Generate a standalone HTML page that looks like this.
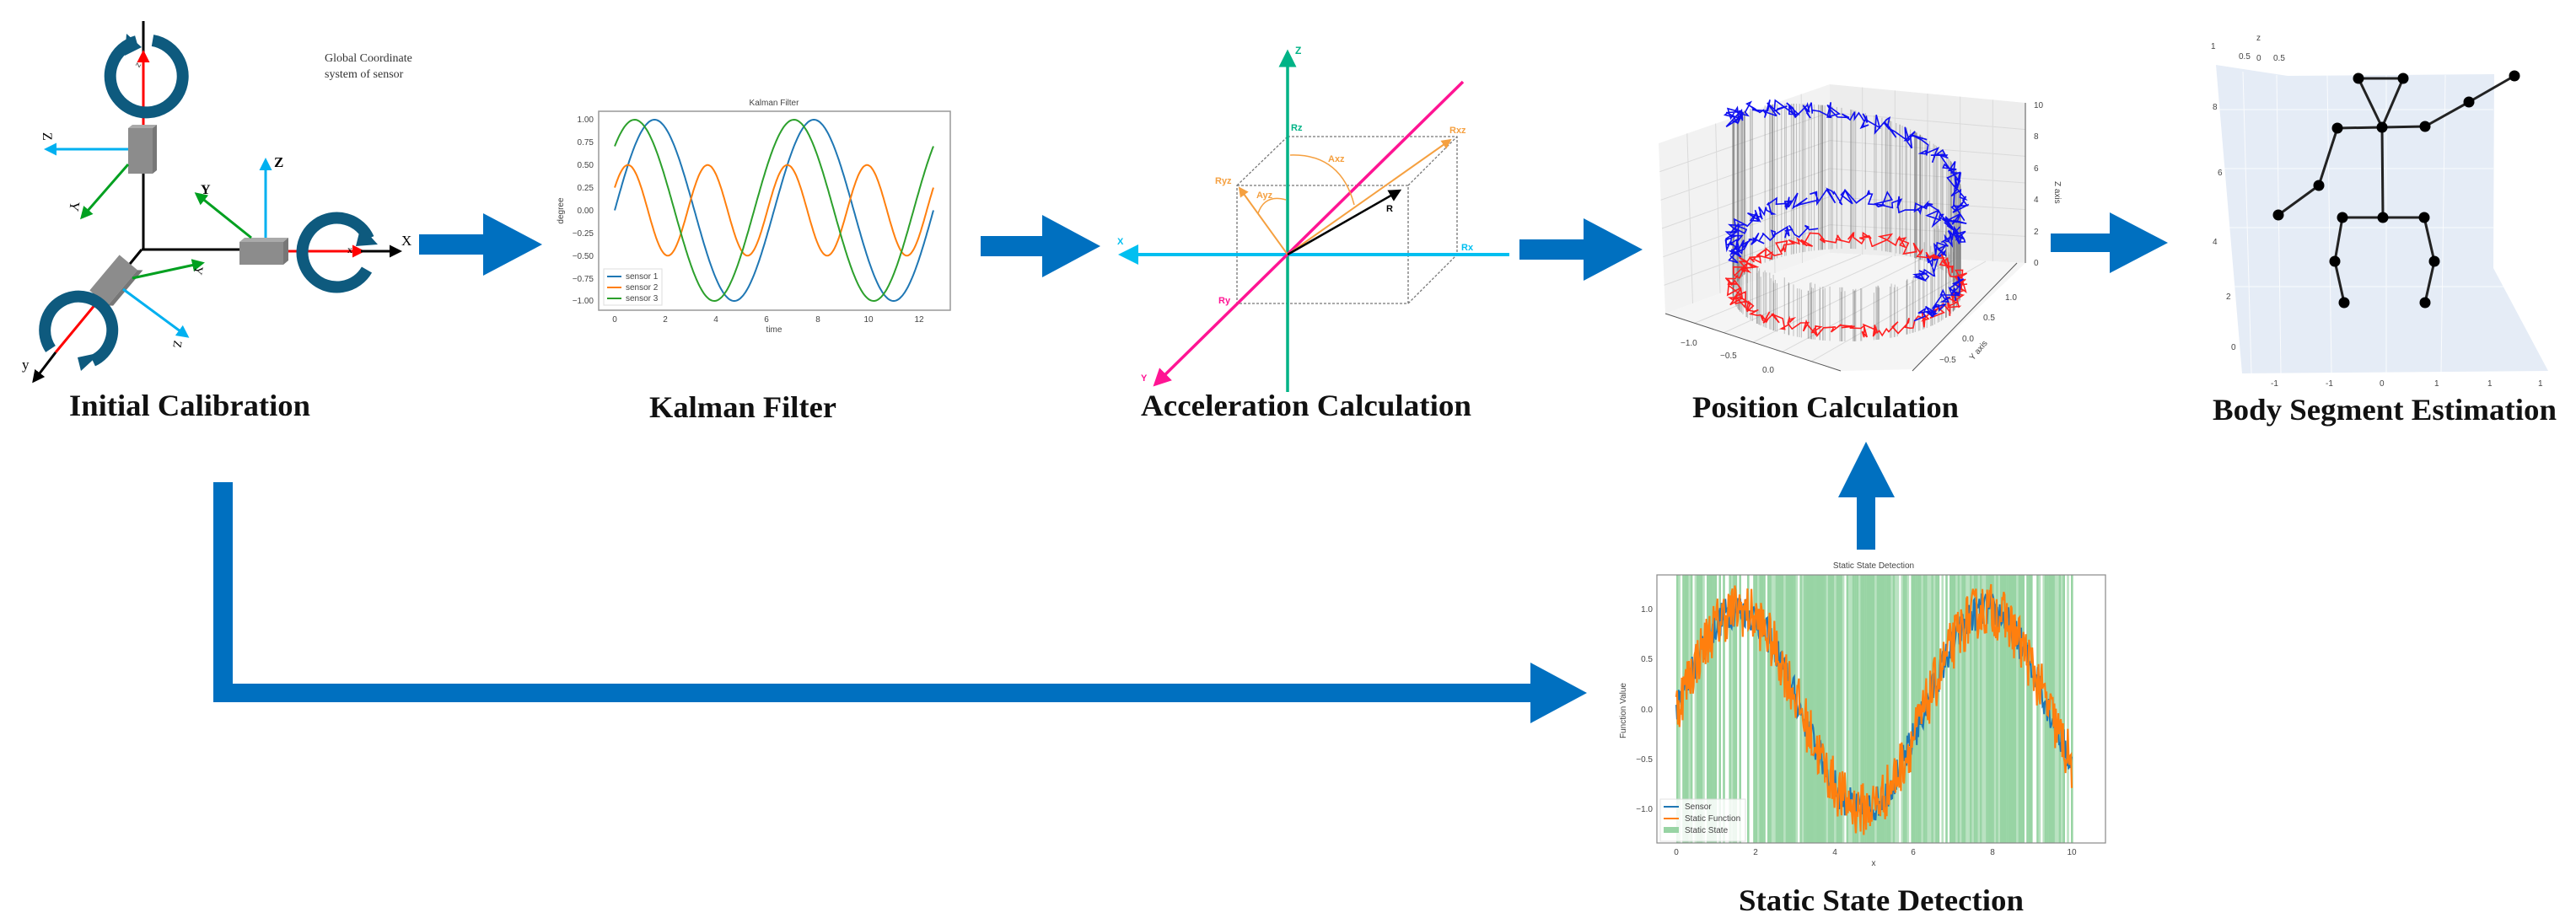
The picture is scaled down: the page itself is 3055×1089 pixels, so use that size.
<!DOCTYPE html>
<html><head><meta charset="utf-8"><style>
html,body{margin:0;padding:0;background:#fff;}
svg{display:block;}
.lbl{font-family:"Liberation Serif",serif;font-weight:bold;font-size:36px;fill:#111;}
.sm{font-family:"Liberation Sans",sans-serif;font-size:10px;fill:#444;}
</style></head><body>
<svg id="s" width="3055" height="1089" viewBox="0 0 3055 1089" xmlns="http://www.w3.org/2000/svg">
<defs>
<marker id="mk" markerWidth="6" markerHeight="6" refX="5" refY="3" orient="auto" markerUnits="strokeWidth"><path d="M0,0 L6,3 L0,6 z" fill="context-stroke"/></marker>
<marker id="mkb" markerWidth="5" markerHeight="5" refX="4" refY="2.5" orient="auto" markerUnits="strokeWidth"><path d="M0,0 L5,2.5 L0,5 z" fill="#000"/></marker>
<marker id="mkc" markerWidth="5" markerHeight="5" refX="4" refY="2.5" orient="auto" markerUnits="strokeWidth"><path d="M0,0 L5,2.5 L0,5 z" fill="#00B0F0"/></marker>
<marker id="mkg" markerWidth="5" markerHeight="5" refX="4" refY="2.5" orient="auto" markerUnits="strokeWidth"><path d="M0,0 L5,2.5 L0,5 z" fill="#00A020"/></marker>
<marker id="mkr" markerWidth="5" markerHeight="5" refX="4" refY="2.5" orient="auto" markerUnits="strokeWidth"><path d="M0,0 L5,2.5 L0,5 z" fill="#F00"/></marker>
<marker id="mko" markerWidth="6" markerHeight="6" refX="5" refY="3" orient="auto" markerUnits="strokeWidth"><path d="M0,0 L6,3 L0,6 z" fill="#F5A040"/></marker>
</defs>

<!-- ===== Initial Calibration ===== -->
<g>
<line x1="170" y1="25" x2="170" y2="296" stroke="#000" stroke-width="3"/>
<line x1="168" y1="296" x2="286" y2="296" stroke="#000" stroke-width="3"/>
<line x1="170" y1="150" x2="170" y2="62" stroke="#F00" stroke-width="3" marker-end="url(#mkr)"/>
<text x="160" y="80" class="sm" font-size="11" fill="#000" transform="rotate(-60 163 76)">z</text>
<path d="M 162 49 A 43 43 0 1 0 181 48" fill="none" stroke="#0E5A7E" stroke-width="14"/>
<polygon points="150,40 168,56 148,66" fill="#0E5A7E"/>
<rect x="152" y="152" width="29" height="54" fill="#8C8C8C"/>
<polygon points="152,152 157,148 186,148 181,152" fill="#aaa"/>
<polygon points="181,152 186,148 186,202 181,206" fill="#777"/>
<line x1="152" y1="177" x2="55" y2="177" stroke="#00B0F0" stroke-width="3" marker-end="url(#mkc)"/>
<text x="50" y="166" font-family="Liberation Serif" font-size="16" transform="rotate(90 55 162)">Z</text>
<line x1="152" y1="195" x2="97" y2="258" stroke="#00A020" stroke-width="3" marker-end="url(#mkg)"/>
<text x="82" y="250" font-family="Liberation Serif" font-size="16" transform="rotate(100 88 245)">Y</text>
<rect x="284" y="287" width="52" height="27" fill="#8C8C8C"/>
<polygon points="284,287 290,282 342,282 336,287" fill="#aaa"/>
<polygon points="336,287 342,282 342,309 336,314" fill="#777"/>
<line x1="315" y1="282" x2="315" y2="190" stroke="#00B0F0" stroke-width="3" marker-end="url(#mkc)"/>
<text x="325" y="198" font-family="Liberation Serif" font-size="17" font-weight="bold">Z</text>
<line x1="298" y1="282" x2="233" y2="230" stroke="#00A020" stroke-width="3" marker-end="url(#mkg)"/>
<text x="238" y="230" font-family="Liberation Serif" font-size="16" font-weight="bold">Y</text>
<line x1="342" y1="298" x2="430" y2="298" stroke="#F00" stroke-width="3" marker-end="url(#mkr)"/>
<line x1="428" y1="298" x2="474" y2="298" stroke="#000" stroke-width="3" marker-end="url(#mkb)"/>
<text x="476" y="291" font-family="Liberation Serif" font-size="17">X</text>
<text x="412" y="300" font-family="Liberation Serif" font-size="12">x</text>
<path d="M 437 283 A 41 41 0 1 0 435 320" fill="none" stroke="#0E5A7E" stroke-width="14"/>
<polygon points="428,268 448,290 422,292" fill="#0E5A7E"/>
<line x1="168" y1="296" x2="150" y2="318" stroke="#000" stroke-width="3"/>
<g transform="rotate(40 135 332)">
<rect x="121" y="305" width="28" height="55" fill="#8C8C8C"/>
<polygon points="149,305 154,301 154,356 149,360" fill="#777"/>
</g>
<line x1="157" y1="330" x2="240" y2="312" stroke="#00A020" stroke-width="3" marker-end="url(#mkg)"/>
<text x="232" y="325" font-family="Liberation Serif" font-size="14" transform="rotate(100 236 320)">Y</text>
<line x1="146" y1="343" x2="222" y2="399" stroke="#00B0F0" stroke-width="3" marker-end="url(#mkc)"/>
<text x="206" y="412" font-family="Liberation Serif" font-size="14" transform="rotate(100 210 408)">Z</text>
<line x1="118" y1="355" x2="66" y2="418" stroke="#F00" stroke-width="3"/>
<line x1="66" y1="418" x2="40" y2="452" stroke="#000" stroke-width="3" marker-end="url(#mkb)"/>
<text x="26" y="438" font-family="Liberation Serif" font-size="17">y</text>
<path d="M 60 414 A 40 40 0 1 1 110 428" fill="none" stroke="#0E5A7E" stroke-width="14"/>
<polygon points="120,418 96,440 92,424" fill="#0E5A7E"/>
<text x="385" y="73" font-family="Liberation Serif" font-size="14" fill="#333">Global Coordinate</text>
<text x="385" y="92" font-family="Liberation Serif" font-size="14" fill="#333">system of sensor</text>
<text x="82" y="493" class="lbl" textLength="286" lengthAdjust="spacingAndGlyphs">Initial Calibration</text>
</g>

<!-- ===== Arrows ===== -->
<g fill="#0070C0">
<polygon points="497,278 573,278 573,253 643,290 573,327 573,302 497,302"/>
<polygon points="1163,280 1236,280 1236,255 1305,292 1236,329 1236,304 1163,304"/>
<polygon points="1802,284 1878,284 1878,259 1948,296 1878,333 1878,308 1802,308"/>
<polygon points="2432,277 2502,277 2502,252 2571,288 2502,324 2502,299 2432,299"/>
<polygon points="2202,652 2202,590 2180,590 2213,524 2247,590 2224,590 2224,652"/>
<polygon points="253,572 276,572 276,811 1815,811 1815,786 1882,822 1815,858 1815,833 253,833"/>
</g>

<!-- ===== Kalman Filter ===== -->
<g>
<text x="918" y="125" class="sm" text-anchor="middle">Kalman Filter</text>
<rect x="710" y="132" width="417" height="236" fill="#fff" stroke="#999" stroke-width="1.5"/>
<g id="kal"></g>
<g class="sm" text-anchor="end" font-size="9">
<text x="704" y="145">1.00</text><text x="704" y="172">0.75</text><text x="704" y="199">0.50</text><text x="704" y="226">0.25</text><text x="704" y="253">0.00</text><text x="704" y="280">−0.25</text><text x="704" y="307">−0.50</text><text x="704" y="334">−0.75</text><text x="704" y="360">−1.00</text>
</g>
<g class="sm" text-anchor="middle" font-size="9">
<text x="729" y="382">0</text><text x="789" y="382">2</text><text x="849" y="382">4</text><text x="909" y="382">6</text><text x="970" y="382">8</text><text x="1030" y="382">10</text><text x="1090" y="382">12</text>
<text x="918" y="394">time</text>
<text x="668" y="250" transform="rotate(-90 668 250)">degree</text>
</g>
<rect x="716" y="319" width="69" height="43" fill="#fff" stroke="#ddd"/>
<line x1="720" y1="328" x2="737" y2="328" stroke="#1f77b4" stroke-width="2"/>
<line x1="720" y1="341" x2="737" y2="341" stroke="#ff7f0e" stroke-width="2"/>
<line x1="720" y1="354" x2="737" y2="354" stroke="#2ca02c" stroke-width="2"/>
<text x="742" y="331" class="sm" font-size="9">sensor 1</text>
<text x="742" y="344" class="sm" font-size="9">sensor 2</text>
<text x="742" y="357" class="sm" font-size="9">sensor 3</text>
<text x="770" y="495" class="lbl" textLength="222" lengthAdjust="spacingAndGlyphs">Kalman Filter</text>
</g>

<!-- ===== Acceleration ===== -->
<g>
<g stroke="#777" stroke-width="1.3" stroke-dasharray="3,2" fill="none">
<rect x="1467" y="220" width="203" height="140"/>
<polyline points="1527,162 1728,162 1728,302"/>
<line x1="1467" y1="220" x2="1527" y2="162"/>
<line x1="1670" y1="220" x2="1728" y2="162"/>
<line x1="1670" y1="360" x2="1728" y2="302"/>
</g>
<line x1="1527" y1="465" x2="1527" y2="62" stroke="#00B386" stroke-width="3.5" marker-end="url(#mk)"/>
<text x="1536" y="64" font-family="Liberation Sans" font-weight="bold" font-size="12" fill="#00B386">Z</text>
<line x1="1790" y1="302" x2="1330" y2="302" stroke="#00BFF0" stroke-width="4" marker-end="url(#mk)"/>
<text x="1325" y="290" font-family="Liberation Sans" font-weight="bold" font-size="11" fill="#00BFF0">X</text>
<text x="1733" y="297" font-family="Liberation Sans" font-weight="bold" font-size="11" fill="#00BFF0">Rx</text>
<line x1="1735" y1="97" x2="1370" y2="456" stroke="#FF1493" stroke-width="3.5" marker-end="url(#mk)"/>
<text x="1353" y="452" font-family="Liberation Sans" font-weight="bold" font-size="11" fill="#FF1493">Y</text>
<text x="1445" y="360" font-family="Liberation Sans" font-weight="bold" font-size="11" fill="#FF1493">Ry</text>
<text x="1531" y="155" font-family="Liberation Sans" font-weight="bold" font-size="11" fill="#00B386">Rz</text>
<line x1="1527" y1="302" x2="1720" y2="166" stroke="#F5A040" stroke-width="2" marker-end="url(#mko)"/>
<line x1="1527" y1="302" x2="1470" y2="223" stroke="#F5A040" stroke-width="2" marker-end="url(#mko)"/>
<text x="1719" y="158" font-family="Liberation Sans" font-weight="bold" font-size="11" fill="#F5A040">Rxz</text>
<text x="1441" y="218" font-family="Liberation Sans" font-weight="bold" font-size="11" fill="#F5A040">Ryz</text>
<text x="1490" y="235" font-family="Liberation Sans" font-weight="bold" font-size="11" fill="#F5A040">Ayz</text>
<text x="1575" y="192" font-family="Liberation Sans" font-weight="bold" font-size="11" fill="#F5A040">Axz</text>
<path d="M1492 253 Q1500 230 1525 237" fill="none" stroke="#F5A040" stroke-width="1.5"/>
<path d="M1530 184 Q1590 182 1606 243" fill="none" stroke="#F5A040" stroke-width="1.5"/>
<line x1="1527" y1="302" x2="1660" y2="226" stroke="#000" stroke-width="2.5" marker-end="url(#mk)"/>
<text x="1644" y="251" font-family="Liberation Sans" font-weight="bold" font-size="11">R</text>
<text x="1353" y="493" class="lbl" textLength="392" lengthAdjust="spacingAndGlyphs">Acceleration Calculation</text>
</g>

<!-- ===== Position Calculation ===== -->
<g>
<polygon points="1967,170 2170,100 2170,300 1975,372" fill="#F2F2F2"/>
<polygon points="2170,100 2402,122 2402,312 2170,300" fill="#EDEDED"/>
<polygon points="1975,372 2170,300 2402,312 2270,438 2183,440" fill="#F5F5F5"/>
<g id="grid" stroke="#DADADA" stroke-width="1" fill="none"></g>
<g id="pos"></g>
<line x1="1975" y1="372" x2="2183" y2="440" stroke="#555" stroke-width="1"/>
<line x1="2268" y1="440" x2="2392" y2="312" stroke="#555" stroke-width="1"/>
<line x1="2402" y1="122" x2="2402" y2="312" stroke="#555" stroke-width="1"/>
<g class="sm" font-size="10">
<text x="2412" y="128">10</text><text x="2412" y="165">8</text><text x="2412" y="203">6</text><text x="2412" y="240">4</text><text x="2412" y="278">2</text><text x="2412" y="315">0</text>
<text x="2437" y="215" transform="rotate(90 2437 215)">Z axis</text>
<text x="2378" y="356">1.0</text><text x="2352" y="380">0.5</text><text x="2327" y="405">0.0</text><text x="2300" y="430">−0.5</text>
<text x="2340" y="428" transform="rotate(-50 2340 428)">Y axis</text>
<text x="1993" y="410">−1.0</text><text x="2040" y="425">−0.5</text><text x="2090" y="442">0.0</text>
</g>
<text x="2007" y="495" class="lbl" textLength="316" lengthAdjust="spacingAndGlyphs">Position Calculation</text>
</g>

<!-- ===== Body Segment ===== -->
<g>
<polygon points="2628,77 2713,90 2958,88 2957,318 3022,440 2659,443" fill="#E5ECF6"/>
<g stroke="#fff" stroke-width="1" opacity="0.8">
<line x1="2660" y1="85" x2="2670" y2="443"/><line x1="2700" y1="89" x2="2705" y2="443"/><line x1="2760" y1="89" x2="2765" y2="443"/><line x1="2830" y1="89" x2="2830" y2="443"/><line x1="2900" y1="89" x2="2895" y2="443"/>
<line x1="2630" y1="130" x2="2957" y2="130"/><line x1="2636" y1="200" x2="2957" y2="200"/><line x1="2642" y1="270" x2="2957" y2="270"/><line x1="2650" y1="340" x2="2990" y2="340"/>
</g>
<g class="sm" font-size="7" fill="#667">
<text x="2624" y="130">8</text><text x="2630" y="208">6</text><text x="2624" y="290">4</text><text x="2640" y="355">2</text><text x="2646" y="415">0</text>
<text x="2676" y="48">z</text><text x="2622" y="58">1</text><text x="2655" y="70">0.5</text><text x="2676" y="72">0</text><text x="2696" y="72">0.5</text>
<text x="2693" y="458">-1</text><text x="2758" y="458">-1</text><text x="2822" y="458">0</text><text x="2887" y="458">1</text><text x="2950" y="458">1</text><text x="3010" y="458">1</text>
</g>
<g stroke="#222" stroke-width="3" fill="none">
<line x1="2797" y1="93" x2="2850" y2="93"/>
<line x1="2797" y1="93" x2="2825" y2="151"/><line x1="2850" y1="93" x2="2825" y2="151"/>
<line x1="2772" y1="152" x2="2876" y2="150"/>
<line x1="2876" y1="150" x2="2928" y2="121"/><line x1="2928" y1="121" x2="2982" y2="90"/>
<line x1="2772" y1="152" x2="2750" y2="220"/><line x1="2750" y1="220" x2="2702" y2="255"/>
<line x1="2825" y1="151" x2="2826" y2="258"/>
<line x1="2778" y1="258" x2="2875" y2="258"/>
<line x1="2778" y1="258" x2="2769" y2="310"/><line x1="2769" y1="310" x2="2780" y2="359"/>
<line x1="2875" y1="258" x2="2887" y2="310"/><line x1="2887" y1="310" x2="2876" y2="359"/>
</g>
<g fill="#000">
<circle cx="2797" cy="93" r="6.5"/><circle cx="2850" cy="93" r="6.5"/><circle cx="2982" cy="90" r="6.5"/><circle cx="2928" cy="121" r="6.5"/>
<circle cx="2772" cy="152" r="6.5"/><circle cx="2825" cy="151" r="6.5"/><circle cx="2876" cy="150" r="6.5"/>
<circle cx="2750" cy="220" r="6.5"/><circle cx="2702" cy="255" r="6.5"/>
<circle cx="2778" cy="258" r="6.5"/><circle cx="2826" cy="258" r="6.5"/><circle cx="2875" cy="258" r="6.5"/>
<circle cx="2769" cy="310" r="6.5"/><circle cx="2887" cy="310" r="6.5"/><circle cx="2780" cy="359" r="6.5"/><circle cx="2876" cy="359" r="6.5"/>
</g>
<text x="2624" y="498" class="lbl" textLength="408" lengthAdjust="spacingAndGlyphs">Body Segment Estimation</text>
</g>

<!-- ===== Static State Detection ===== -->
<g>
<text x="2222" y="674" class="sm" text-anchor="middle">Static State Detection</text>
<rect x="1965" y="682" width="532" height="318" fill="#fff"/>
<g id="bars"></g>
<g id="stat"></g>
<rect x="1965" y="682" width="532" height="318" fill="none" stroke="#888" stroke-width="1.2"/>
<g class="sm" text-anchor="end" font-size="9">
<text x="1960" y="726">1.0</text><text x="1960" y="785">0.5</text><text x="1960" y="845">0.0</text><text x="1960" y="904">−0.5</text><text x="1960" y="963">−1.0</text>
</g>
<g class="sm" text-anchor="middle" font-size="9">
<text x="1988" y="1014">0</text><text x="2082" y="1014">2</text><text x="2176" y="1014">4</text><text x="2269" y="1014">6</text><text x="2363" y="1014">8</text><text x="2457" y="1014">10</text>
<text x="2222" y="1027">x</text>
<text x="1928" y="843" transform="rotate(-90 1928 843)">Function Value</text>
</g>
<rect x="1969" y="948" width="101" height="50" fill="#fff" opacity="0.85" stroke="#ddd"/>
<line x1="1973" y1="957" x2="1991" y2="957" stroke="#1f77b4" stroke-width="2"/>
<line x1="1973" y1="971" x2="1991" y2="971" stroke="#ff7f0e" stroke-width="2"/>
<rect x="1973" y="981" width="18" height="7" fill="#98d4a4"/>
<text x="1998" y="960" class="sm" font-size="9">Sensor</text>
<text x="1998" y="974" class="sm" font-size="9">Static Function</text>
<text x="1998" y="988" class="sm" font-size="9">Static State</text>
<text x="2062" y="1080" class="lbl" textLength="338" lengthAdjust="spacingAndGlyphs">Static State Detection</text>
</g>
</svg>
<script>
(function(){
var NS="http://www.w3.org/2000/svg";
function el(p,t,a){var e=document.createElementNS(NS,t);for(var k in a)e.setAttribute(k,a[k]);p.appendChild(e);return e;}
var seed=12345;function r(){seed=(seed*16807)%2147483647;return (seed-1)/2147483646;}
var kal=document.getElementById('kal');
var fs=[[function(t){return Math.sin(t)},'#1f77b4'],[function(t){return 0.5*Math.sin(2*t+Math.PI/6)},'#ff7f0e'],[function(t){return Math.sin(t+Math.PI/4)},'#2ca02c']];
fs.forEach(function(f){var d='';for(var i=0;i<=300;i++){var t=4*Math.PI*i/300;var x=729+t*30.08,y=249.5-f[0](t)*107.5;d+=(i?'L':'M')+x.toFixed(1)+' '+y.toFixed(1);}el(kal,'path',{d:d,fill:'none',stroke:f[1],'stroke-width':2});});
var bars=document.getElementById('bars');
for(var x=1988;x<2457;x+=2.4){var p=r();var dense=(x>2150&&x<2240)||(x>2320&&x<2400);var th=dense?0.97:0.86;
 if(p<th)el(bars,'rect',{x:x.toFixed(1),y:682,width:2.6,height:318,fill:p<th*0.7?'#98d4a4':'#b9e2c1'});}
var st=document.getElementById('stat');
function noisy(amp,col,w){var d='';for(var i=0;i<=500;i++){var t=10*i/500;var v=Math.sin(t)+(r()-0.5)*amp;var X=1988+t*46.9,Y=841.5-v*118.5;d+=(i?'L':'M')+X.toFixed(1)+' '+Y.toFixed(1);}el(st,'path',{d:d,fill:'none',stroke:col,'stroke-width':w});}
noisy(0.35,'#1f77b4',2);noisy(0.55,'#ff7f0e',2.2);
var g=document.getElementById('grid');
for(var i=1;i<6;i++){var a=i/6;el(g,'line',{x1:1967+a*203,y1:170-a*70,x2:1975+a*195,y2:372-a*72});
 el(g,'line',{x1:2170+a*232,y1:100+a*22,x2:2170+a*232,y2:300+a*12});
 el(g,'line',{x1:1967+8*a,y1:170+a*202,x2:2170,y2:100+a*200});
 el(g,'line',{x1:2170,y1:100+a*200,x2:2402,y2:122+a*190});
 el(g,'line',{x1:1975+a*208,y1:372+a*68,x2:2170+a*222,y2:300+a*12});}
var pos=document.getElementById('pos');
var cx=2190,cy=350,rx=135,ry=55,zs=20;
// gray verticals: back half tall, front half short
for(var k=0;k<260;k++){var th=Math.PI*2*r();var s=Math.sin(th);var z;
 if(s>0){z=6.3+4*(th/Math.PI);}else{z=2.8+0.6*r(); if(Math.cos(th)>0.6)z=3.5+2.5*r();}
 var x=cx+rx*Math.cos(th);var base=cy-ry*s;var top=base-z*zs;
 el(pos,'line',{x1:x.toFixed(1),y1:top.toFixed(1),x2:x.toFixed(1),y2:base.toFixed(1),stroke:'#777','stroke-width':1.1,opacity:0.4});}
function ring(th0,th1,z0,z1,col,n,j){var d='';for(var i=0;i<=n;i++){var f=i/n;var th=th0+(th1-th0)*f;var z=z0+(z1-z0)*f;
 var x=cx+rx*Math.cos(th)+(r()-0.5)*j,y=cy-ry*Math.sin(th)-z*zs+(r()-0.5)*j;d+=(i?'L':'M')+x.toFixed(1)+' '+y.toFixed(1);}
 el(pos,'path',{d:d,fill:'none',stroke:col,'stroke-width':1.6});}
ring(Math.PI*1.0,-0.35,10.3,5.0,'#1010F0',180,22);
ring(-0.35,-0.9,5.0,3.0,'#1010F0',50,20);
ring(Math.PI*1.05,0.0,3.2,3.0,'#1010F0',150,20);
ring(Math.PI*1.0,Math.PI*0.6,2.2,1.2,'#1010F0',50,16);
ring(0,Math.PI*2,0.6,0.6,'#FF2020',280,18);
ring(-0.2,-0.9,1.5,0.8,'#1010F0',40,18);
})();
</script>
</body></html>
